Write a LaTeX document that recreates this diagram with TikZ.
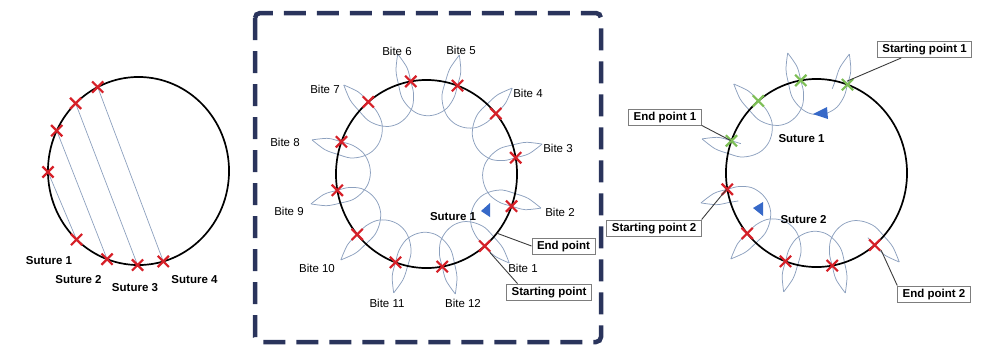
\documentclass[tikz,border=0pt]{standalone}
\usepackage{fontspec}
\setmainfont{Liberation Sans}
\usetikzlibrary{shapes.misc,calc}
\definecolor{loopc}{RGB}{140,160,190}
\definecolor{xred}{RGB}{214,32,40}
\definecolor{xgreen}{RGB}{125,190,85}
\definecolor{navyc}{RGB}{42,52,92}
\definecolor{boxgray}{RGB}{125,125,125}
\definecolor{leadc}{RGB}{60,60,60}
\definecolor{arrowc}{RGB}{55,105,200}
% one loop of a running suture, from the bite at angle #1 to the next bite (#1+30)
\newcommand\sutloop[1]{%
  \draw[loopline] plot[smooth,tension=0.55] coordinates {({#1+4}:121) ({#1+0.8}:106) ({#1}:92) ({#1-0.5}:80) ({#1+2}:68) ({#1+9}:60) ({#1+19}:57) ({#1+29}:60) ({#1+35.5}:68) ({#1+38.5}:79) ({#1+38}:92) ({#1+37}:106) ({#1+34}:121)};}
\newcommand\sutstart[1]{%
  \draw[loopline] plot[smooth,tension=0.55] coordinates {({#1+4}:121) ({#1+7}:106) ({#1+8}:93) ({#1+9}:84)};}
\newcommand\sutend[1]{%
  \draw[loopline] plot[smooth,tension=0.55] coordinates {({#1+4}:121) ({#1+0.8}:106) ({#1}:92) ({#1-0.5}:82)};}
\begin{document}
\begin{tikzpicture}[x=1pt,y=-1pt,font=\fontsize{11.5}{13}\selectfont,
  maincirc/.style={draw=black,line width=1.7pt},
  loopline/.style={draw=loopc,line width=0.75pt},
  sutline/.style={draw=loopc,line width=0.7pt},
  xm/.style={cross out,draw=xred,line width=2.2pt,minimum size=9pt,inner sep=0pt},
  xg/.style={xm,draw=xgreen},
  lbl/.style={inner sep=0pt},
  sutlbl/.style={inner sep=0pt,font=\fontsize{11.5}{13}\selectfont\bfseries},
  boxn/.style={draw=boxgray,line width=0.9pt,fill=white,inner xsep=5pt,inner ysep=2.5pt,
    text height=8.5pt,text depth=2.5pt,font=\fontsize{11.5}{13}\selectfont\bfseries},
  leader/.style={draw=leadc,line width=0.9pt},
  arrowtri/.style={fill=arrowc},
  frame/.style={draw=navyc,line width=4.5pt,dash pattern=on 22pt off 11pt,rounded corners=5pt}]
\useasboundingbox (0,0) rectangle (982,349);

% ---------------- left diagram ----------------
\begin{scope}[shift={(138.5,171)},xscale=0.984,yscale=-1.022]
  \draw[maincirc] (0,0) circle (92);
  \coordinate (l1) at (116.8:92);
  \coordinate (l2) at (134:92);
  \coordinate (l3) at (154.6:92);
  \coordinate (l4) at (180.6:92);
  \coordinate (l5) at (226.8:92);
  \coordinate (l6) at (249.7:92);
  \coordinate (l7) at (269.4:92);
  \coordinate (l8) at (285.9:92);
\end{scope}
\draw[sutline] (l4) -- (l5);
\draw[sutline] (l3) -- (l6);
\draw[sutline] (l2) -- (l7);
\draw[sutline] (l1) -- (l8);
\foreach \i in {1,...,8} { \node[xm] (lx\i) at (l\i) {}; }
\node[sutlbl] (ls1) at (49,261) {Suture 1};
\node[sutlbl] (ls2) at (78.5,279.5) {Suture 2};
\node[sutlbl] (ls3) at (135,288) {Suture 3};
\node[sutlbl] (ls4) at (194.5,279.5) {Suture 4};

% ---------------- middle diagram ----------------
\draw[frame] (255,13) rectangle (601,342);
\begin{scope}[shift={(426.5,174)},xscale=0.984,yscale=-1.022]
  \foreach \t in {310,340,...,640} { \sutloop{\t} }
  \draw[maincirc] (0,0) circle (92);
  \foreach \k in {1,...,12} {
    \pgfmathsetmacro\ang{310+30*(\k-1)}
    \node[xm] (m\k) at (\ang:92) {};
  }
  \coordinate (mend) at (321:92);
  \coordinate (mstart) at (310:100);
\end{scope}
\fill[arrowtri] (481,211) -- (490,203) -- (490,217) -- cycle;
\node[sutlbl] (msut) at (453,217) {Suture 1};
\node[lbl] (bt1) at (523,268) {Bite 1};
\node[lbl] (bt2) at (560,212) {Bite 2};
\node[lbl] (bt3) at (558,148) {Bite 3};
\node[lbl] (bt4) at (528,93) {Bite 4};
\node[lbl] (bt5) at (461,50) {Bite 5};
\node[lbl] (bt6) at (397,51) {Bite 6};
\node[lbl] (bt7) at (325,89) {Bite 7};
\node[lbl] (bt8) at (285,142) {Bite 8};
\node[lbl] (bt9) at (289,211) {Bite 9};
\node[lbl] (bt10) at (317,268) {Bite 10};
\node[lbl] (bt11) at (387,303) {Bite 11};
\node[lbl] (bt12) at (463,303) {Bite 12};
\node[boxn] (endp) at (563.5,246) {End point};
\node[boxn] (stp) at (549,292) {Starting point};
\draw[leader] (endp.west) -- (mend);
\draw[leader] (stp.165) -- (mstart);

% ---------------- right diagram ----------------
\begin{scope}[shift={(816.5,173)},xscale=0.984,yscale=-1.022]
  \sutstart{70}
  \foreach \t in {70,100,130} { \sutloop{\t} }
  \sutend{160}
  \sutstart{190}
  \foreach \t in {190,220,250,280} { \sutloop{\t} }
  \sutend{310}
  \draw[maincirc] (0,0) circle (92);
  \foreach \k/\a in {1/70,2/100,3/130,4/160} { \node[xg] (g\k) at (\a:92) {}; }
  \foreach \k/\a in {1/190,2/220,3/250,4/280,5/310} { \node[xm] (r\k) at (\a:92) {}; }
  \coordinate (rsp1) at (71:95);
  \coordinate (rep1) at (160:93);
  \coordinate (rsp2) at (190:93);
  \coordinate (rep2) at (311:100);
\end{scope}
\fill[arrowtri] (813,114) -- (827,107) -- (828,119) -- cycle;
\fill[arrowtri] (753,208) -- (763,202) -- (763,216) -- cycle;
\node[sutlbl] (rs1) at (801.5,138.5) {Suture 1};
\node[sutlbl] (rs2) at (803.5,220) {Suture 2};
\node[boxn] (sp1) at (924.5,49.5) {Starting point 1};
\node[boxn] (ep1) at (665,117) {End point 1};
\node[boxn] (sp2) at (654,228) {Starting point 2};
\node[boxn] (ep2) at (934,294) {End point 2};
\draw[leader] (sp1.200) -- (rsp1);
\draw[leader] (ep1.south east) -- (rep1);
\draw[leader] (sp2.north east) -- (rsp2);
\draw[leader] (ep2.north west) -- (rep2);
\end{tikzpicture}
\end{document}
